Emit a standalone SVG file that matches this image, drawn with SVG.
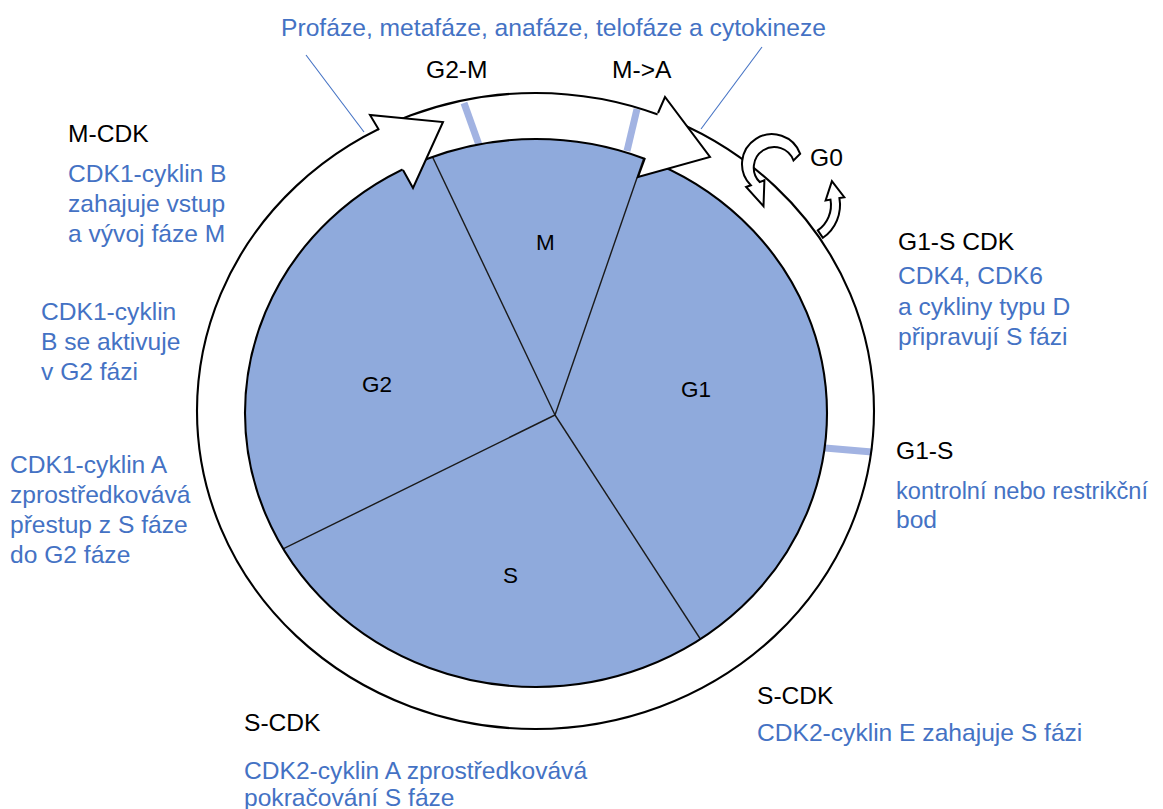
<svg xmlns="http://www.w3.org/2000/svg" width="1163" height="809" viewBox="0 0 1163 809">
  <style>
    text { font-family: "Liberation Sans", Arial, Helvetica, sans-serif; font-size: 24.6px; }
    .k { fill: #000000; }
    .b { fill: #4472C4; }
    .ph { font-size: 22.5px; fill: #000000; }
    .edge { fill: none; stroke: #000000; stroke-width: 2.1; }
    .spoke { stroke: #1a1a1a; stroke-width: 1.4; }
    .tick { stroke: #a2b3e2; stroke-width: 7; stroke-linecap: butt; }
    .head { fill: #ffffff; stroke: #000000; stroke-width: 2; stroke-linejoin: miter; }
    .call { stroke: #4472C4; stroke-width: 1.1; fill: none; }
  </style>
  <defs>
    <clipPath id="cellClip">
      <ellipse cx="536" cy="413" rx="291" ry="274"/>
    </clipPath>
  </defs>

  <rect width="1163" height="809" fill="#ffffff"/>

  <!-- cycle ring: white band between the outer rim and the cell -->
  <g id="ring">
    <ellipse cx="535.5" cy="411" rx="338.5" ry="318" fill="#ffffff"/>
    <line class="tick" x1="464" y1="103" x2="479" y2="145"/>
    <line class="tick" x1="637" y1="109" x2="627" y2="151"/>
    <line class="tick" x1="825" y1="448" x2="872" y2="452"/>
    <ellipse class="edge" cx="535.5" cy="411" rx="338.5" ry="318"/>
  </g>

  <!-- the cell divided into the four phases -->
  <g id="cell">
    <ellipse cx="536" cy="413" rx="291" ry="274" fill="#8FAADC"/>
    <g clip-path="url(#cellClip)">
      <line class="spoke" x1="555" y1="415" x2="408.6" y2="106.6"/>
      <line class="spoke" x1="555" y1="415" x2="654.6" y2="127"/>
      <line class="spoke" x1="555" y1="415" x2="233.4" y2="573.4"/>
      <line class="spoke" x1="555" y1="415" x2="730.2" y2="685"/>
    </g>
    <ellipse class="edge" cx="536" cy="413" rx="291" ry="274"/>
  </g>

  <g id="phase-M"><text class="ph" x="536" y="250">M</text></g>
  <g id="phase-G2"><text class="ph" x="362" y="392">G2</text></g>
  <g id="phase-G1"><text class="ph" x="681" y="397">G1</text></g>
  <g id="phase-S"><text class="ph" x="503" y="583">S</text></g>

  <!-- block arrowheads on the ring -->
  <g id="arrow-g2m">
    <path class="head" d="M379,130 L370,115 L443,122 L413,188 L403,170"/>
  </g>
  <g id="arrow-ma">
    <path class="head" d="M658,113 L665,97 L710,157 L638,177 L645,158"/>
  </g>

  <!-- G0 exit and re-entry arrows -->
  <g id="g0">
    <path class="head" d="M800.2,153.8 A30,30 0 1 0 750.8,185.3 L746.1,187 L763.5,206.2 L764.4,180.3 L759.7,182 A20.5,20.5 0 1 1 793.5,160.5 Z"/>
    <path class="head" d="M817.8,230.4 L822.9,237.8 A40,40 0 0 0 839.4,198 L844.3,197.2 L831.9,181.1 L825.6,200.5 L830.5,199.6 A31,31 0 0 1 817.8,230.4 Z"/>
    <text class="k" x="810" y="166">G0</text>
  </g>

  <!-- callout lines from the mitosis caption -->
  <g id="connectors">
    <line class="call" x1="306" y1="55" x2="364" y2="132"/>
    <line class="call" x1="762" y1="47" x2="701" y2="129"/>
  </g>

  <g id="caption-mitosis">
    <text class="b" x="281" y="36" textLength="545" lengthAdjust="spacingAndGlyphs">Profáze, metafáze, anafáze, telofáze a cytokineze</text>
  </g>
  <g id="label-g2m"><text class="k" x="426" y="78">G2-M</text></g>
  <g id="label-ma"><text class="k" x="612" y="78">M-&gt;A</text></g>

  <g id="note-mcdk">
    <text class="k" x="68" y="142">M-CDK</text>
    <text class="b" x="68" y="182">CDK1-cyklin B</text>
    <text class="b" x="68" y="212">zahajuje vstup</text>
    <text class="b" x="68" y="242">a vývoj fáze M</text>
  </g>

  <g id="note-g2">
    <text class="b" x="41" y="320">CDK1-cyklin</text>
    <text class="b" x="41" y="350">B se aktivuje</text>
    <text class="b" x="41" y="380">v G2 fázi</text>
  </g>

  <g id="note-s-g2">
    <text class="b" x="10" y="473">CDK1-cyklin A</text>
    <text class="b" x="10" y="503">zprostředkovává</text>
    <text class="b" x="10" y="533">přestup z S fáze</text>
    <text class="b" x="10" y="563">do G2 fáze</text>
  </g>

  <g id="note-scdk-a">
    <text class="k" x="244" y="731">S-CDK</text>
    <text class="b" x="244" y="779">CDK2-cyklin A zprostředkovává</text>
    <text class="b" x="244" y="806">pokračování S fáze</text>
  </g>

  <g id="note-scdk-e">
    <text class="k" x="757" y="704">S-CDK</text>
    <text class="b" x="757" y="741">CDK2-cyklin E zahajuje S fázi</text>
  </g>

  <g id="note-g1s">
    <text class="k" x="896" y="459">G1-S</text>
    <text class="b" x="896" y="499" textLength="252" lengthAdjust="spacingAndGlyphs">kontrolní nebo restrikční</text>
    <text class="b" x="896" y="528">bod</text>
  </g>

  <g id="note-g1scdk">
    <text class="k" x="898" y="250">G1-S CDK</text>
    <text class="b" x="898" y="284">CDK4, CDK6</text>
    <text class="b" x="898" y="315">a cykliny typu D</text>
    <text class="b" x="898" y="345">připravují S fázi</text>
  </g>
</svg>
